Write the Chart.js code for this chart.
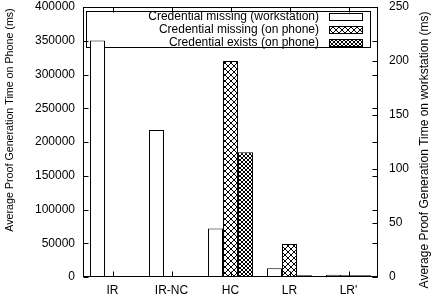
<!DOCTYPE html>
<html>
<head>
<meta charset="utf-8">
<script src="https://cdn.jsdelivr.net/npm/chart.js@4"></script>
<style>
  html, body { margin: 0; padding: 0; background: #fff; }
  #chart { width: 432px; height: 301px; }
</style>
</head>
<body>
<div id="chart"><canvas width="432" height="301"></canvas></div>
<script>
const categories = ['IR', 'IR-NC', 'HC', 'LR', "LR'"];
// workstation times are read against the right axis (ms)
const workstationMissing = [219, 136, 45, 8, 2];
// phone times are read against the left axis (ms)
const phoneMissing = [1000, 1000, 320000, 48800, 2500];
const phoneExists = [1000, 1000, 185000, 2500, 2500];
const seriesLabels = [
  'Credential missing (workstation)',
  'Credential missing (on phone)',
  'Credential exists (on phone)'
];
const leftTicks = [0, 50000, 100000, 150000, 200000, 250000, 300000, 350000, 400000];
const rightTicks = [0, 50, 100, 150, 200, 250];
const leftTitle = 'Average Proof Generation Time on Phone (ms)';
const rightTitle = 'Average Proof Generation Time on workstation (ms)';

const FONT = "'Liberation Sans', Arial, sans-serif";
Chart.defaults.font.family = FONT;
Chart.defaults.font.size = 12;
Chart.defaults.color = '#000';

function makePattern(kind) {
  const c = document.createElement('canvas');
  const n = kind === 'cross' ? 6 : 4;
  c.width = n; c.height = n;
  const g = c.getContext('2d');
  g.fillStyle = '#fff';
  g.fillRect(0, 0, n, n);
  g.strokeStyle = '#000';
  g.lineWidth = 1;
  g.beginPath();
  g.moveTo(0, 0); g.lineTo(n, n);
  g.moveTo(0, n); g.lineTo(n, 0);
  g.stroke();
  if (kind !== 'cross') {
    g.fillStyle = '#000';
    g.fillRect(n / 2 - 0.5, n / 2 - 0.5, 1, 1);
  }
  return g.createPattern(c, 'repeat');
}

const canvas = document.querySelector('#chart canvas');
const fills = ['#fff', makePattern('cross'), makePattern('dense')];

function vtext(ctx, text, x, y, size) {
  ctx.save();
  ctx.font = size + 'px ' + FONT;
  ctx.fillStyle = '#000';
  ctx.textAlign = 'center';
  ctx.textBaseline = 'middle';
  ctx.translate(x, y);
  ctx.rotate(-Math.PI / 2);
  ctx.fillText(text, 0, 0);
  ctx.restore();
}

// keep the plot box where the reference has it
function fixY(width) {
  return s => {
    s.width = width;
    s.paddingTop = 7;
    s.paddingBottom = 0;
  };
}

const frame = {
  id: 'frame',
  beforeDatasetsDraw(chart) {
    // gnuplot style key, right aligned text with sample on the right
    const {ctx} = chart;
    ctx.save();
    ctx.strokeStyle = '#000';
    ctx.lineWidth = 1;
    ctx.strokeRect(86.5, 11.5, 284, 36);
    ctx.font = '12px ' + FONT;
    ctx.textAlign = 'right';
    ctx.textBaseline = 'middle';
    seriesLabels.forEach((t, i) => {
      const y = 17 + i * 13;
      ctx.fillStyle = '#000';
      ctx.fillText(t, 319, y);
      ctx.fillStyle = fills[i];
      ctx.fillRect(329, y - 4, 34, 7);
      ctx.strokeRect(329.5, y - 3.5, 33, 7);
    });
    ctx.restore();
  },
  afterDatasetsDraw(chart) {
    const {ctx} = chart;
    const a = chart.chartArea;
    const y = chart.scales.y, y2 = chart.scales.y2, x = chart.scales.x;
    const L = Math.round(a.left) + 0.5, R = Math.round(a.right) - 0.5;
    const T = Math.round(a.top) + 0.5, B = Math.round(a.bottom) - 0.5;
    ctx.save();
    ctx.strokeStyle = '#000';
    ctx.lineWidth = 1;
    ctx.beginPath();
    leftTicks.forEach(v => {
      const p = Math.round(y.getPixelForValue(v)) + 0.5;
      ctx.moveTo(L, p); ctx.lineTo(L + 5, p);
      ctx.moveTo(R, p); ctx.lineTo(R - 5, p);
    });
    rightTicks.forEach(v => {
      const p = Math.round(y2.getPixelForValue(v)) + 0.5;
      ctx.moveTo(R, p); ctx.lineTo(R - 5, p);
    });
    categories.forEach((c, i) => {
      const p = Math.round(x.getPixelForValue(i)) + 0.5;
      ctx.moveTo(p, B); ctx.lineTo(p, B - 5);
      ctx.moveTo(p, T); ctx.lineTo(p, T + 5);
    });
    ctx.stroke();
    ctx.strokeRect(L, T, R - L, B - T);
    ctx.restore();
  },
  afterDraw(chart) {
    vtext(chart.ctx, leftTitle, 10, 120, 10.7);
    vtext(chart.ctx, rightTitle, 425, 150, 12);
  }
};

new Chart(canvas, {
  type: 'bar',
  data: {
    labels: categories,
    datasets: [{
      label: seriesLabels[0],
      data: workstationMissing,
      yAxisID: 'y2',
      backgroundColor: fills[0]
    }, {
      label: seriesLabels[1],
      data: phoneMissing,
      yAxisID: 'y',
      backgroundColor: fills[1]
    }, {
      label: seriesLabels[2],
      data: phoneExists,
      yAxisID: 'y',
      backgroundColor: fills[2]
    }]
  },
  options: {
    responsive: false,
    devicePixelRatio: 1,
    animation: false,
    layout: {padding: 0},
    datasets: {
      bar: {
        borderColor: '#000',
        borderWidth: 1,
        categoryPercentage: 0.763,
        barPercentage: 1.0
      }
    },
    plugins: {
      legend: {display: false},
      tooltip: {enabled: false}
    },
    scales: {
      x: {
        grid: {display: false, drawTicks: false},
        border: {display: false},
        ticks: {padding: 6},
        afterFit: s => { s.height = 24; s.paddingLeft = 0; s.paddingRight = 0; }
      },
      y: {
        position: 'left',
        min: 0,
        max: 400000,
        afterBuildTicks: s => { s.ticks = leftTicks.map(v => ({value: v})); },
        grid: {display: false, drawTicks: false},
        border: {display: false},
        ticks: {padding: 8, callback: v => String(v)},
        afterFit: fixY(83)
      },
      y2: {
        position: 'right',
        min: 0,
        max: 250,
        afterBuildTicks: s => { s.ticks = rightTicks.map(v => ({value: v})); },
        grid: {display: false, drawTicks: false},
        border: {display: false},
        ticks: {padding: 11, callback: v => String(v)},
        afterFit: fixY(54)
      }
    }
  },
  plugins: [frame]
});
</script>
</body>
</html>
